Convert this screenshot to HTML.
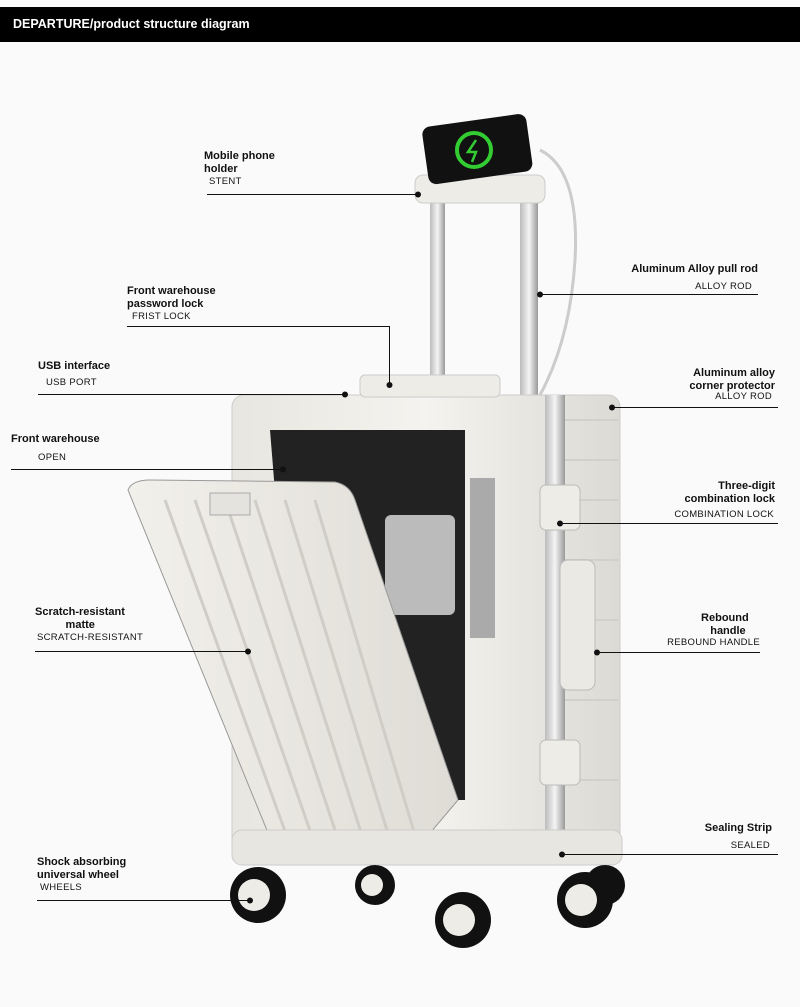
<!DOCTYPE html>
<html><head><style>
html,body{margin:0;padding:0;}
body{width:800px;height:1007px;background:#fafafa;position:relative;overflow:hidden;font-family:"Liberation Sans",sans-serif;color:#111;}
.hdr{position:absolute;left:0;top:7px;width:800px;height:35px;background:#000;color:#fff;font-weight:bold;font-size:12.5px;line-height:35px;padding-left:13px;box-sizing:border-box;}
.t{position:absolute;font-size:11px;font-weight:bold;line-height:13px;white-space:nowrap;}
.s{position:absolute;font-size:9.5px;line-height:11px;white-space:nowrap;letter-spacing:.3px;}
.r{text-align:right;}
</style></head><body>
<div class="hdr">DEPARTURE/product structure diagram</div>
<svg width="800" height="1007" style="position:absolute;left:0;top:0">
<defs>
<linearGradient id="rod" x1="0" x2="1"><stop offset="0" stop-color="#bbb"/><stop offset=".5" stop-color="#f4f4f4"/><stop offset="1" stop-color="#999"/></linearGradient>
<linearGradient id="body" x1="0" x2="1"><stop offset="0" stop-color="#e8e6e0"/><stop offset=".5" stop-color="#f4f3ef"/><stop offset="1" stop-color="#dcdad4"/></linearGradient>
<linearGradient id="lid" x1="0" x2="1"><stop offset="0" stop-color="#f2f0ea"/><stop offset="1" stop-color="#dedcd5"/></linearGradient>
</defs>
<rect x="430" y="200" width="15" height="195" fill="url(#rod)"/>
<rect x="520" y="200" width="18" height="195" fill="url(#rod)"/>
<path d="M540 150 Q580 170 575 260 Q570 340 540 395" stroke="#ccc" stroke-width="3" fill="none"/>
<rect x="415" y="175" width="130" height="28" rx="8" fill="#eeece6" stroke="#ccc"/>
<rect x="425" y="120" width="105" height="58" rx="8" fill="#111" transform="rotate(-8 478 150)"/>
<circle cx="474" cy="150" r="17" fill="none" stroke="#3c3" stroke-width="4"/>
<path d="M476 140 L468 152 L476 152 L472 162" stroke="#3c3" stroke-width="2.5" fill="none"/>
<rect x="232" y="395" width="388" height="465" rx="12" fill="url(#body)" stroke="#ccc"/>
<g stroke="#d2d0ca" stroke-width="2">
<line x1="565" y1="420" x2="618" y2="420"/><line x1="565" y1="460" x2="618" y2="460"/><line x1="565" y1="500" x2="618" y2="500"/><line x1="565" y1="560" x2="618" y2="560"/><line x1="565" y1="620" x2="618" y2="620"/><line x1="565" y1="700" x2="618" y2="700"/><line x1="565" y1="780" x2="618" y2="780"/>
</g>
<rect x="545" y="395" width="20" height="465" fill="url(#rod)"/>
<rect x="360" y="375" width="140" height="22" rx="5" fill="#eeece6" stroke="#ccc"/>
<path d="M270 430 L465 430 L465 800 L300 800 Z" fill="#222"/>
<rect x="385" y="515" width="70" height="100" rx="6" fill="#bbb"/>
<rect x="470" y="478" width="25" height="160" fill="#aaa"/>
<path d="M128 490 Q132 480 150 480 L335 482 Q350 485 355 500 L458 800 L420 845 L285 858 L275 850 Z" fill="url(#lid)" stroke="#999"/>
<g stroke="#cfcdc6" stroke-width="3">
<line x1="165" y1="500" x2="290" y2="845"/><line x1="195" y1="500" x2="315" y2="845"/><line x1="225" y1="500" x2="340" y2="845"/><line x1="255" y1="500" x2="365" y2="845"/><line x1="285" y1="500" x2="390" y2="840"/><line x1="315" y1="500" x2="415" y2="835"/>
</g>
<rect x="210" y="493" width="40" height="22" fill="#e5e3dd" stroke="#aaa"/>
<rect x="540" y="485" width="40" height="45" rx="6" fill="#eeece6" stroke="#bbb"/>
<rect x="540" y="740" width="40" height="45" rx="6" fill="#eeece6" stroke="#bbb"/>
<rect x="560" y="560" width="35" height="130" rx="8" fill="#ebe9e3" stroke="#bbb"/>
<rect x="232" y="830" width="390" height="35" rx="10" fill="#e8e6e0" stroke="#ccc"/>
<g fill="#111">
<circle cx="375" cy="885" r="20"/><circle cx="605" cy="885" r="20"/>
<circle cx="258" cy="895" r="28"/><circle cx="463" cy="920" r="28"/><circle cx="585" cy="900" r="28"/>
</g>
<g fill="#eeece6"><circle cx="254" cy="895" r="16"/><circle cx="459" cy="920" r="16"/><circle cx="581" cy="900" r="16"/><circle cx="372" cy="885" r="11"/></g>
<g stroke="#111" stroke-width="1" fill="none">
<line x1="207" y1="194.5" x2="418" y2="194.5"/>
<polyline points="127,326.5 389.5,326.5 389.5,385"/>
<line x1="38" y1="394.5" x2="345" y2="394.5"/>
<line x1="11" y1="469.5" x2="283" y2="469.5"/>
<line x1="35" y1="651.5" x2="248" y2="651.5"/>
<line x1="37" y1="900.5" x2="250" y2="900.5"/>
<line x1="540" y1="294.5" x2="758" y2="294.5"/>
<line x1="612" y1="407.5" x2="778" y2="407.5"/>
<line x1="560" y1="523.5" x2="778" y2="523.5"/>
<line x1="597" y1="652.5" x2="760" y2="652.5"/>
<line x1="562" y1="854.5" x2="778" y2="854.5"/>
</g>
<g fill="#111">
<circle cx="418" cy="194.5" r="3"/><circle cx="389.5" cy="385" r="3"/><circle cx="345" cy="394.5" r="3"/><circle cx="283" cy="469.5" r="3"/><circle cx="248" cy="651.5" r="3"/><circle cx="250" cy="900.5" r="3"/>
<circle cx="540" cy="294.5" r="3"/><circle cx="612" cy="407.5" r="3"/><circle cx="560" cy="523.5" r="3"/><circle cx="597" cy="652.5" r="3"/><circle cx="562" cy="854.5" r="3"/>
</g>
</svg>
<div class="t" style="left:204px;top:150px">Mobile phone<br>holder</div><div class="s" style="left:209px;top:176px">STENT</div>
<div class="t" style="left:127px;top:285px">Front warehouse<br>password lock</div><div class="s" style="left:132px;top:311px">FRIST LOCK</div>
<div class="t" style="left:38px;top:360px">USB interface</div><div class="s" style="left:46px;top:377px">USB PORT</div>
<div class="t" style="left:11px;top:433px">Front warehouse</div><div class="s" style="left:38px;top:452px">OPEN</div>
<div class="t" style="left:35px;top:606px">Scratch-resistant<br>&nbsp;&nbsp;&nbsp;&nbsp;&nbsp;&nbsp;&nbsp;&nbsp;&nbsp;&nbsp;matte</div><div class="s" style="left:37px;top:632px">SCRATCH-RESISTANT</div>
<div class="t" style="left:37px;top:856px">Shock absorbing<br>universal wheel</div><div class="s" style="left:40px;top:882px">WHEELS</div>
<div class="t r" style="right:42px;top:263px">Aluminum Alloy pull rod</div><div class="s r" style="right:48px;top:281px">ALLOY ROD</div>
<div class="t r" style="right:25px;top:367px">Aluminum alloy<br>corner protector</div><div class="s r" style="right:28px;top:391px">ALLOY ROD</div>
<div class="t r" style="right:25px;top:480px">Three-digit<br>combination lock</div><div class="s r" style="right:26px;top:509px">COMBINATION LOCK</div>
<div class="t" style="left:698px;top:612px">&nbsp;Rebound<br>&nbsp;&nbsp;&nbsp;&nbsp;handle</div><div class="s r" style="right:40px;top:637px">REBOUND HANDLE</div>
<div class="t r" style="right:28px;top:822px">Sealing Strip</div><div class="s r" style="right:30px;top:840px">SEALED</div>
</body></html>
